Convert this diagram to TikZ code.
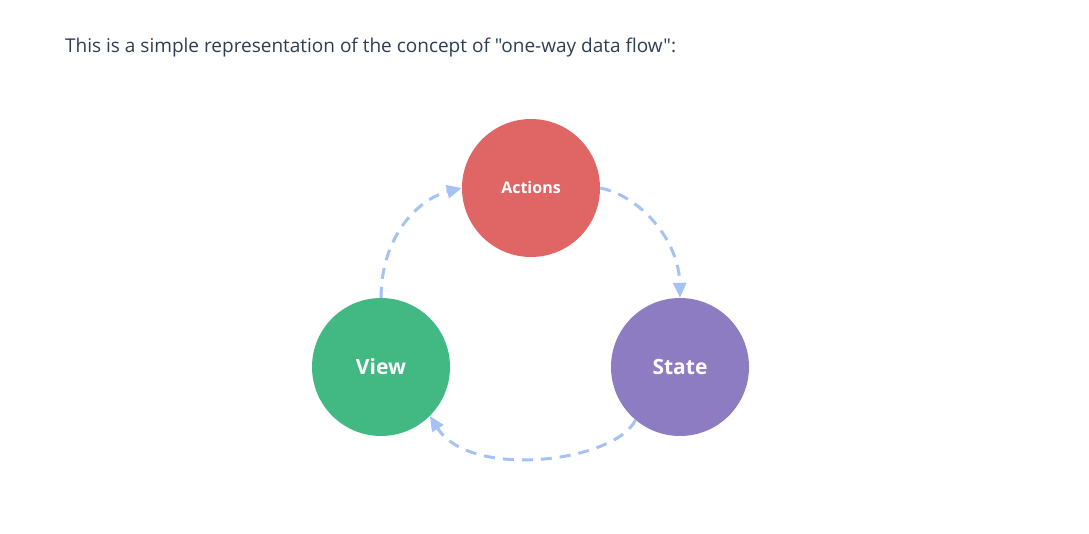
\documentclass[tikz,border=0pt]{standalone}
\usepackage{fontspec}
\setmainfont{Open Sans}[Ligatures=TeXOff]
\usetikzlibrary{arrows.meta}
\definecolor{txt}{HTML}{2C3E50}
\definecolor{actc}{HTML}{E06666}
\definecolor{viewc}{HTML}{42B983}
\definecolor{statec}{HTML}{8E7CC3}
\definecolor{arrc}{HTML}{A4C2F4}
\tikzset{
  blob/.style={circle, minimum size=138pt, inner sep=0pt, text=white, font=\bfseries},
  flow/.style={draw=arrc, line width=3pt, dash pattern=on 11pt off 8pt,
    -{Triangle[length=15pt,width=13pt]}},
}
\begin{document}
\begin{tikzpicture}[x=1pt,y=-1pt]
\useasboundingbox (0,0) rectangle (1089,534);
\node[anchor=base west, text=txt, font=\fontsize{19}{22}\selectfont, inner sep=0pt] (intro) at (65,53) {This is a simple representation of the concept of "one-way data flow":};
\node[blob, fill=actc, font=\bfseries\fontsize{16}{18}\selectfont] (act) at (531,188) {Actions};
\node[blob, fill=viewc, font=\bfseries\fontsize{21}{24}\selectfont] (view) at (381,367) {View};
\node[blob, fill=statec, font=\bfseries\fontsize{21}{24}\selectfont] (state) at (680,367) {State};
\draw[flow] (view.north) .. controls (381,240) and (415,200) .. (act.west);
\draw[flow] (act.east) .. controls (640,196) and (679,240) .. (state.north);
\draw[flow] (state.-130) .. controls (615,462) and (470,480) .. (view.-45);
\end{tikzpicture}
\end{document}
